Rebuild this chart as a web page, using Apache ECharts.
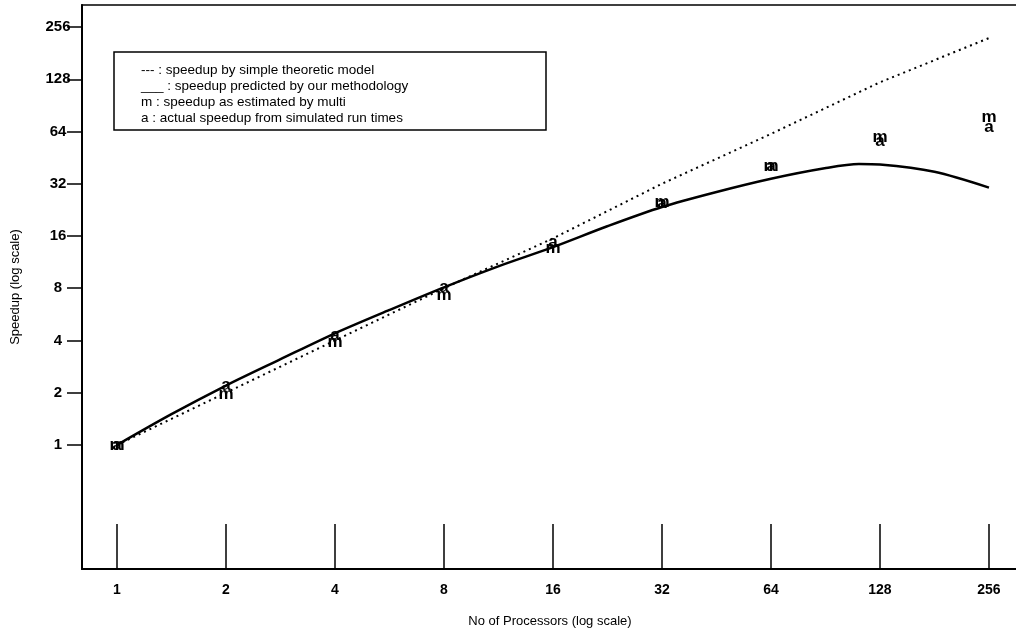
<!DOCTYPE html>
<html lang="en">

<head>
    <meta charset="UTF-8">
    <title>Speedup</title>
    <script src="https://cdn.jsdelivr.net/npm/echarts@6/dist/echarts.min.js"></script>
    <style>
        body {
            margin: 0;
            background: #fff;
        }

        #root {
            width: 1016px;
            height: 635px;
        }
    </style>
</head>

<body>

    <div id="root"></div>
    <script>

        // processor counts (x) and the measured / estimated speedups
        var procs = [1, 2, 4, 8, 16, 32, 64, 128, 256];
        var theoretic = [1, 2, 4, 8, 15.5, 32, 62, 123, 221];
        var multi = [1, 1.95, 3.9, 7.3, 13.6, 25, 40.5, 59, 77];
        var actual = [1, 2.2, 4.3, 8.1, 14.7, 24.6, 40.5, 56.3, 68];

        // predicted curve (our methodology), read at half-octave steps
        var predictedX = [1, 1.41, 2, 2.83, 4, 5.66, 8, 11.3, 16, 22.6, 32, 45, 64, 90, 112, 128, 181, 256];
        var predicted = [1, 1.5, 2.2, 3.12, 4.4, 6.0, 8.1, 10.7, 13.8, 18.2, 23.5, 28.6, 34.2, 39.3, 41.6, 41.3, 37.5, 30.4];

        var tickValues = [1, 2, 4, 8, 16, 32, 64, 128, 256];

        var legendLines = [
            '--- : speedup by simple theoretic model',
            '___ : speedup predicted by our methodology',
            'm : speedup as estimated by multi',
            'a : actual speedup from simulated run times'
        ];

        function pairs(xs, ys) {
            return xs.map(function (x, i) { return [x, ys[i]]; });
        }

        var font = 'Liberation Sans, Arial, Helvetica, sans-serif';

        var letterLabel = function (ch) {
            return {
                show: true,
                position: 'inside',
                formatter: ch,
                color: '#000',
                opacity: 1,
                textBorderWidth: 0,
                fontFamily: font,
                fontWeight: 'bold',
                fontSize: 17
            };
        };

        var mychart = echarts.init(document.getElementById('root'));

        mychart.setOption({
            animation: false,
            grid: {
                left: 82,
                right: -2,
                top: 5,
                bottom: 66,
                outerBoundsMode: 'none',
                containLabel: false,
                show: true,
                borderColor: '#000',
                borderWidth: 1.5
            },
            xAxis: {
                type: 'log',
                logBase: 2,
                min: 0.8006,
                max: 307.9,
                name: 'No of Processors (log scale)',
                nameLocation: 'middle',
                nameGap: 46,
                nameTextStyle: { color: '#000', fontFamily: font, fontSize: 13 },
                axisLine: { lineStyle: { color: '#000', width: 2 } },
                axisTick: {
                    inside: true,
                    length: 45,
                    customValues: tickValues,
                    lineStyle: { color: '#000', width: 1.5 }
                },
                axisLabel: {
                    customValues: tickValues,
                    margin: 14,
                    color: '#000',
                    fontFamily: font,
                    fontWeight: 'bold',
                    fontSize: 14
                },
                splitLine: { show: false },
                minorTick: { show: false }
            },
            yAxis: {
                type: 'log',
                logBase: 2,
                min: 0.1929,
                max: 342.8,
                name: 'Speedup (log scale)',
                nameLocation: 'middle',
                nameGap: 60,
                nameTextStyle: { color: '#000', fontFamily: font, fontSize: 13 },
                axisLine: { lineStyle: { color: '#000', width: 2 } },
                axisTick: {
                    length: 15,
                    customValues: tickValues,
                    lineStyle: { color: '#000', width: 1.5 }
                },
                axisLabel: {
                    customValues: tickValues,
                    align: 'center',
                    margin: 24,
                    color: '#000',
                    fontFamily: font,
                    fontWeight: 'bold',
                    fontSize: 15
                },
                splitLine: { show: false }
            },
            graphic: [{
                type: 'rect',
                z: 100,
                shape: { x: 114, y: 52, width: 432, height: 78 },
                style: { fill: '#fff', stroke: '#000', lineWidth: 1.5 }
            }].concat(legendLines.map(function (t, i) {
                return {
                    type: 'text',
                    z: 101,
                    x: 141,
                    y: 70 + i * 16,
                    style: {
                        text: t,
                        fill: '#000',
                        font: '13.5px ' + font,
                        verticalAlign: 'middle'
                    }
                };
            })),
            series: [{
                type: 'line',
                data: pairs(procs, theoretic),
                showSymbol: false,
                lineStyle: { color: '#000', width: 2, type: [2, 4] }
            }, {
                type: 'line',
                data: pairs(predictedX, predicted),
                smooth: 0.3,
                showSymbol: false,
                lineStyle: { color: '#000', width: 2.5 }
            }, {
                type: 'scatter',
                data: pairs(procs, multi),
                symbolSize: 2,
                itemStyle: { color: 'rgba(0,0,0,0)', opacity: 1 },
                label: letterLabel('m')
            }, {
                type: 'scatter',
                data: pairs(procs, actual),
                symbolSize: 2,
                itemStyle: { color: 'rgba(0,0,0,0)', opacity: 1 },
                label: letterLabel('a')
            }]
        });

    </script>

</body>

</html>
